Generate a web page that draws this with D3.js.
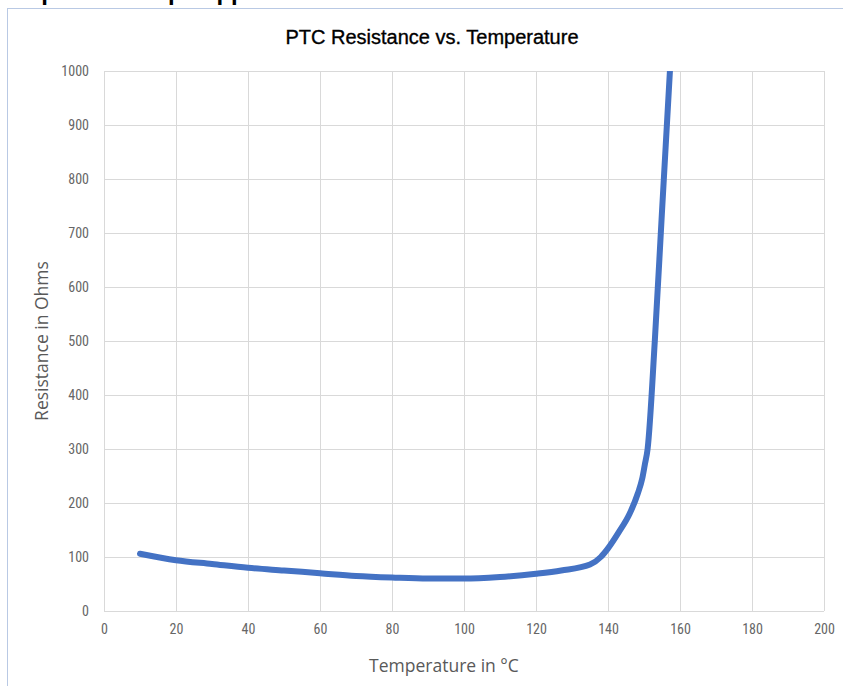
<!DOCTYPE html>
<html>
<head>
<meta charset="utf-8">
<script src="https://cdn.jsdelivr.net/npm/d3@7"></script>
<style>
  html, body { margin: 0; padding: 0; background: #ffffff; }
  svg { display: block; }
</style>
</head>
<body>
<svg id="chart" width="843" height="686"></svg>
<script>
// ---- data ----
const temperature = [10, 20, 30, 40, 50, 60, 70, 80, 90, 100, 110, 120, 127, 135, 138, 140, 143, 146, 148.3, 149.5, 150.2, 151, 153, 155, 157.2];
const resistance  = [106, 94, 87, 80, 75, 70, 65, 62, 60, 60, 63, 69, 75, 86, 100, 116, 146, 180, 218, 245, 270, 300, 500, 740, 1000];
const xTicks = [0, 20, 40, 60, 80, 100, 120, 140, 160, 180, 200];
const yTicks = [0, 100, 200, 300, 400, 500, 600, 700, 800, 900, 1000];
const chartTitle = "PTC Resistance vs. Temperature";
const xTitle = "Temperature in °C";
const yTitle = "Resistance in Ohms";
const pageHeading = "Expected temp.";
const pageHeadingTail = " application";

const svg = d3.select("#chart");
const W = 843, H = 686;
const margin = { left: 104, top: 71, right: W - 824, bottom: H - 611 };

// cropped page heading above the chart frame (cut off in the reference too)
const head = svg.append("text")
  .attr("x", 12).attr("y", 0)
  .attr("font-family", "Liberation Sans, Arial, sans-serif")
  .attr("font-weight", "bold").attr("font-size", 24)
  .attr("fill", "#000");
head.append("tspan").text(pageHeading);
head.append("tspan").attr("dx", 7).text(pageHeadingTail);

// chart frame
svg.append("rect")
  .attr("x", 7.5).attr("y", 8.5)
  .attr("width", W).attr("height", H)
  .attr("fill", "#ffffff")
  .attr("stroke", "#b9c9e4").attr("stroke-width", 1);

const x = d3.scaleLinear().domain([0, 200]).range([margin.left, W - margin.right]);
const y = d3.scaleLinear().domain([0, 1000]).range([H - margin.bottom, margin.top]);

// gridlines
const grid = svg.append("g").attr("stroke", "#d9d9d9").attr("stroke-width", 1);
grid.selectAll("line.v").data(xTicks).join("line")
  .attr("x1", d => Math.round(x(d)) + 0.5).attr("x2", d => Math.round(x(d)) + 0.5)
  .attr("y1", y(0)).attr("y2", y(1000));
grid.selectAll("line.h").data(yTicks).join("line")
  .attr("y1", d => Math.round(y(d)) + 0.5).attr("y2", d => Math.round(y(d)) + 0.5)
  .attr("x1", x(0)).attr("x2", x(200));

const tickFont = "'Liberation Sans Narrow', 'Roboto Condensed', Roboto, sans-serif";

// axes (labels only, Excel style)
const xAxis = svg.append("g")
  .attr("transform", `translate(0,${y(0)})`)
  .call(d3.axisBottom(x).tickValues(xTicks).tickFormat(d3.format("d")).tickSize(0).tickPadding(13));
const yAxis = svg.append("g")
  .attr("transform", `translate(${x(0)},0)`)
  .call(d3.axisLeft(y).tickValues(yTicks).tickFormat(d3.format("d")).tickSize(0).tickPadding(15));
[xAxis, yAxis].forEach(a => {
  a.select(".domain").remove();
  a.selectAll("text")
    .attr("font-family", tickFont)
    .attr("font-size", 14)
    .attr("fill", "#666666");
});

// line
svg.append("clipPath").attr("id", "plotclip")
  .append("rect")
  .attr("x", x(0)).attr("y", y(1000))
  .attr("width", x(200) - x(0)).attr("height", y(0) - y(1000));

const pts = temperature.map((t, i) => [t, resistance[i]]);
const line = d3.line()
  .x(d => x(d[0])).y(d => y(d[1]))
  .curve(d3.curveMonotoneX);
svg.append("path")
  .datum(pts.concat([[158.2, 1120]]))
  .attr("clip-path", "url(#plotclip)")
  .attr("d", line)
  .attr("fill", "none")
  .attr("stroke", "#4472c4")
  .attr("stroke-width", 6)
  .attr("stroke-linecap", "round")
  .attr("stroke-linejoin", "round");

// titles
svg.append("text")
  .attr("x", 432).attr("y", 44)
  .attr("text-anchor", "middle")
  .attr("font-family", "Liberation Sans, Arial, sans-serif")
  .attr("font-size", 20)
  .attr("fill", "#000")
  .attr("stroke", "#000").attr("stroke-width", 0.35)
  .text(chartTitle);

svg.append("text")
  .attr("x", 444).attr("y", 672)
  .attr("text-anchor", "middle")
  .attr("font-family", "'Open Sans', sans-serif")
  .attr("font-size", 17.5)
  .attr("fill", "#595959")
  .text(xTitle);

svg.append("text")
  .attr("transform", `translate(48,341) rotate(-90)`)
  .attr("text-anchor", "middle")
  .attr("font-family", "'Open Sans', sans-serif")
  .attr("font-size", 17.5)
  .attr("fill", "#595959")
  .text(yTitle);
</script>
</body>
</html>
